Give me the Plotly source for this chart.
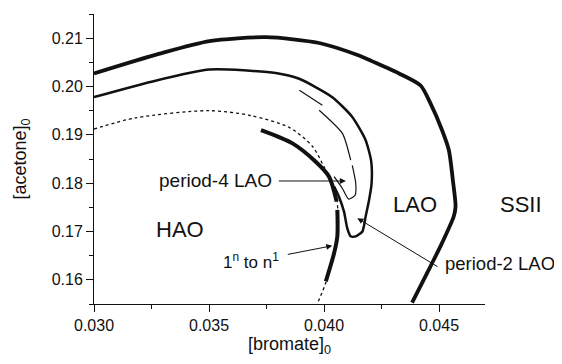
import plotly.graph_objects as go

# SSII boundary (thick outer curve)
ssii_x = [0.0300, 0.03285, 0.03502, 0.03748, 0.03979, 0.04152, 0.0421, 0.04326, 0.0442,
          0.04463, 0.04513, 0.04543, 0.0456, 0.04572, 0.04564, 0.04513, 0.04463, 0.04383]
ssii_y = [0.2027, 0.2068, 0.2094, 0.2102, 0.2090, 0.2064, 0.2052, 0.2027, 0.2002,
          0.1965, 0.1910, 0.1868, 0.1807, 0.1752, 0.1731, 0.1676, 0.1628, 0.1553]

# period-2 LAO boundary
p2_x = [0.0300, 0.0325, 0.03502, 0.0379, 0.03892, 0.04036, 0.04123, 0.04181, 0.04205,
        0.04207, 0.04196, 0.04181, 0.04167, 0.04138, 0.04116, 0.04101, 0.04087, 0.04065, 0.04044]
p2_y = [0.1978, 0.2010, 0.2035, 0.2028, 0.2016, 0.1978, 0.1937, 0.1889, 0.1846,
        0.1800, 0.1765, 0.1731, 0.1700, 0.1690, 0.1690, 0.1707, 0.1741, 0.1772, 0.1793]

# period-4 LAO boundary (thin, broken)
p4_x = [0.03893, 0.03993, None, 0.03979, 0.0408, 0.04116, None,
        0.04123, 0.04138, 0.04135, 0.04107, 0.0408, 0.04044]
p4_y = [0.1992, 0.19612, None, 0.19509, 0.19029, 0.18478, None,
        0.1837, 0.1800, 0.1775, 0.1767, 0.1789, 0.18134]

# dotted curve
dot_x = [0.0300, 0.0318, 0.0350, 0.0368, 0.0385, 0.0395, 0.0400, 0.0403, 0.04055,
         0.0406, 0.04058, 0.0401, 0.0397]
dot_y = [0.1912, 0.1935, 0.1950, 0.1940, 0.1915, 0.1876, 0.1834, 0.1805, 0.1770,
         0.1740, 0.1690, 0.1597, 0.1550]

# 1^n to n^1 curve (thick, two pieces)
tr_x = [0.03726, 0.03863, 0.03964, 0.04022, 0.04055, None, 0.04058, 0.04058, 0.04044, 0.04008]
tr_y = [0.19097, 0.18823, 0.18443, 0.18134, 0.1762, None, 0.17447, 0.1690, 0.16555, 0.15969]

x_ticks = [0.030, 0.035, 0.040, 0.045]
y_ticks = [0.16, 0.17, 0.18, 0.19, 0.20, 0.21]

C = "#111111"
fig = go.Figure()
fig.add_trace(go.Scatter(x=dot_x, y=dot_y, mode="lines",
                         line=dict(color=C, width=1.3, dash="dot", shape="spline", smoothing=0.8)))
fig.add_trace(go.Scatter(x=ssii_x, y=ssii_y, mode="lines",
                         line=dict(color=C, width=3.8, shape="spline", smoothing=0.7)))
fig.add_trace(go.Scatter(x=p2_x, y=p2_y, mode="lines",
                         line=dict(color=C, width=2.5, shape="spline", smoothing=0.6)))
fig.add_trace(go.Scatter(x=p4_x, y=p4_y, mode="lines",
                         line=dict(color=C, width=1.2, shape="spline", smoothing=0.6)))
fig.add_trace(go.Scatter(x=tr_x, y=tr_y, mode="lines",
                         line=dict(color=C, width=4, shape="spline", smoothing=0.8)))

F = "Liberation Sans, Arial, sans-serif"
anns = [
    dict(x=0.03376, y=0.17035, text="HAO", font=dict(size=22)),
    dict(x=0.04395, y=0.1755, text="LAO", font=dict(size=22)),
    dict(x=1.092, xref="paper", y=0.1755, text="SSII", font=dict(size=22)),
    dict(x=0.0353, y=0.18045, text="period-4 LAO", font=dict(size=19)),
    dict(x=1.038, xref="paper", y=0.1634, text="period-2 LAO", font=dict(size=18.5)),
    dict(x=0.03684, y=0.1640, text="1<sup>n</sup> to n<sup>1</sup>", font=dict(size=17)),
]
for a in anns:
    a.setdefault("xref", "x")
    a["yref"] = "y"
    a["xanchor"] = "center"
    a["yanchor"] = "middle"
    a["showarrow"] = False
    a["font"]["color"] = C
    a["font"]["family"] = F
    fig.add_annotation(**a)

arrows = [
    (0.04095, 0.18045, 0.03797, 0.18045),
    (0.04145, 0.17276, 0.04500, 0.16255),
    (0.04036, 0.16705, 0.03836, 0.1652),
]
for hx, hy, tx, ty in arrows:
    fig.add_annotation(x=hx, y=hy, ax=tx, ay=ty, xref="x", yref="y", axref="x", ayref="y",
                       text="", showarrow=True, arrowhead=2, arrowsize=1.2, arrowwidth=1,
                       arrowcolor=C)

fig.update_layout(
    width=554, height=356,
    margin=dict(l=86, r=77, t=6, b=60),
    paper_bgcolor="white", plot_bgcolor="white",
    showlegend=False,
    font=dict(family=F, color=C, size=16),
)
fig.update_xaxes(range=[0.030, 0.047], tickvals=x_ticks, tickformat=".3f", automargin=False,
                 showline=True, linecolor=C, linewidth=1, ticks="outside", ticklen=7,
                 tickcolor=C, showgrid=False, zeroline=False,
                 minor=dict(dtick=0.0025, ticks="outside", ticklen=4, tickcolor=C, showgrid=False),
                 title=dict(text="[bromate]<sub>0</sub>", font=dict(size=18), standoff=2))
fig.update_yaxes(range=[0.155, 0.215], tickvals=y_ticks, tickformat=".2f", automargin=False,
                 showline=True, linecolor=C, linewidth=1, ticks="outside", ticklen=7,
                 tickcolor=C, showgrid=False, zeroline=False,
                 minor=dict(dtick=0.005, tick0=0.155, ticks="outside", ticklen=4, tickcolor=C, showgrid=False),
                 title=dict(text="[acetone]<sub>0</sub>", font=dict(size=18), standoff=20))

fig.write_html("out.html")
